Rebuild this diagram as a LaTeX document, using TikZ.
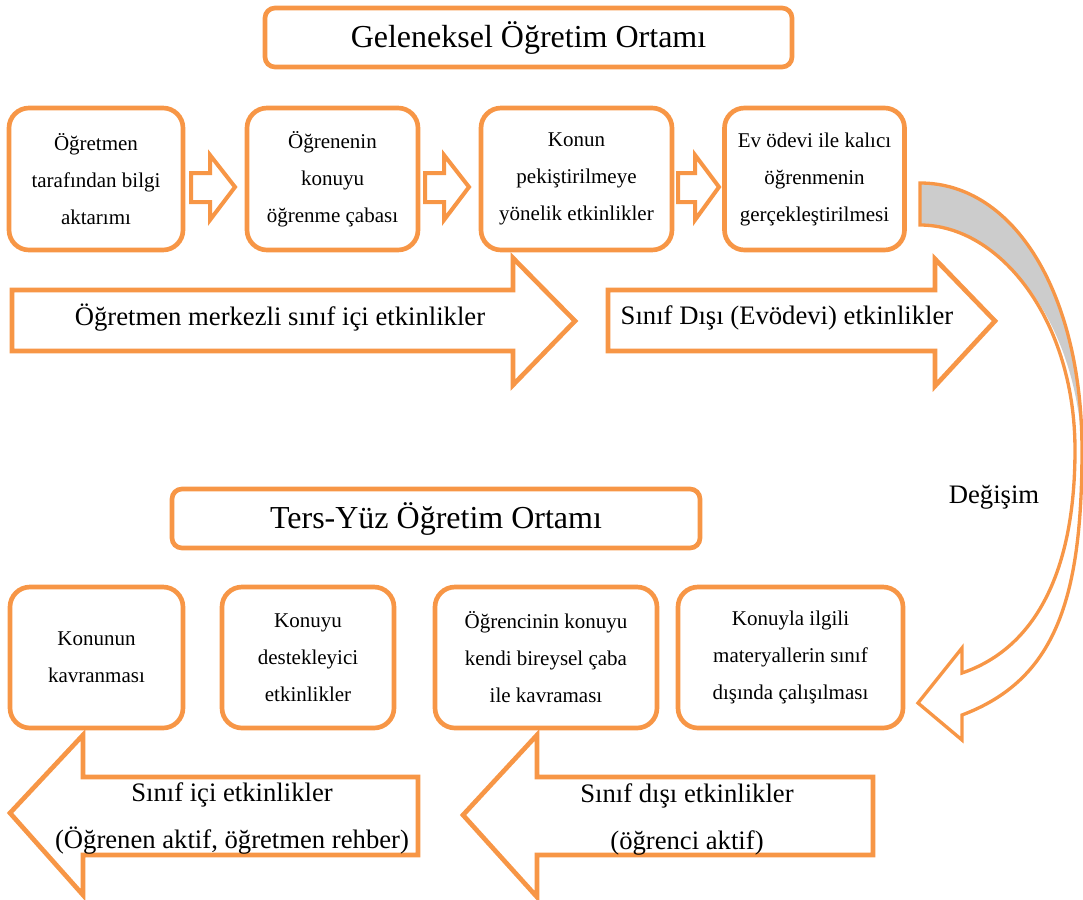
\documentclass[tikz,border=0pt]{standalone}
\usepackage{fontspec}
\setmainfont{Liberation Serif}
\definecolor{turuncu}{HTML}{F79646}
\definecolor{gri}{HTML}{CCCCCC}
\begin{document}
\begin{tikzpicture}[x=0.75pt,y=-0.75pt,
        kutu/.style={draw=turuncu,line width=3.5pt,rounded corners=15pt,align=center,inner sep=0pt,font=\fontsize{15.75}{27.75}\selectfont},
        baslik/.style={draw=turuncu,line width=3.5pt,rounded corners=7.5pt,inner sep=0pt,minimum height=44.25pt,font=\fontsize{24}{28}\selectfont},
        blokok/.style={draw=turuncu,line width=3.5pt,fill=white},
        kucukok/.style={draw=turuncu,line width=3pt,fill=white},
        yazi/.style={align=center,font=\fontsize{20}{35.25}\selectfont}]
                \useasboundingbox (0,0) rectangle (1083,900);
                % geleneksel
                \node[baslik,minimum width=395.25pt] (T1) at (528.5,37.5) {Geleneksel Öğretim Ortamı};
                \node[kutu,minimum width=130.5pt,minimum height=106.5pt] (B1) at (96,179) {Öğretmen\\tarafından bilgi\\aktarımı};
                \node[kutu,minimum width=128.25pt,minimum height=106.5pt] (B2) at (332.5,179) {Öğrenenin\\konuyu\\öğrenme çabası};
                \node[kutu,minimum width=143.25pt,minimum height=106.5pt] (B3) at (576.5,179) {Konun\\pekiştirilmeye\\yönelik etkinlikler};
                \node[kutu,minimum width=135pt,minimum height=106.5pt] (B4) at (814.5,179) {Ev ödevi ile kalıcı\\öğrenmenin\\gerçekleştirilmesi};
                \draw[kucukok] (191,173) -- (210,173) -- (210,155) -- (235,187) -- (210,220) -- (210,202) -- (191,202) -- cycle;
                \draw[kucukok] (425,173) -- (444,173) -- (444,155) -- (469,187) -- (444,220) -- (444,202) -- (425,202) -- cycle;
                \draw[kucukok] (678,173) -- (695,173) -- (695,155) -- (719,187) -- (695,220) -- (695,202) -- (678,202) -- cycle;
                \draw[blokok] (12,290) -- (513,290) -- (513,258) -- (575,321) -- (513,385) -- (513,351) -- (12,351) -- cycle;
                \draw[blokok] (608,290) -- (935,290) -- (935,259) -- (995,321) -- (935,386) -- (935,351) -- (608,351) -- cycle;
                \node[yazi] (S1) at (280,318) {Öğretmen merkezli sınıf içi etkinlikler};
                \node[yazi] (S2) at (787,318) {Sınıf Dışı (Evödevi) etkinlikler};
                % degisim
                \fill[gri] (920,183) .. controls (1015,183) and (1082,295) .. (1082,450) .. controls (1077,320) and (1000,225) .. (920,225) -- cycle;
                \draw[draw=turuncu,line width=2.5pt,line join=miter] (920,183) .. controls (1015,183) and (1082,295) .. (1082,450) .. controls (1082,600) and (1055,680) .. (962,715) -- (962,740) -- (918,703) -- (962,648) -- (962,673) .. controls (1030,650) and (1075,580) .. (1075,450) .. controls (1075,320) and (1000,225) .. (920,225) -- cycle;
                \node[font=\fontsize{20}{24}\selectfont] (D) at (994,497) {Değişim};
                % ters-yuz
                \node[baslik,minimum width=396pt] (T2) at (436,518.5) {Ters-Yüz Öğretim Ortamı};
                \node[kutu,minimum width=129.75pt,minimum height=105.75pt] (C1) at (96.5,657.5) {Konunun\\kavranması};
                \node[kutu,minimum width=129pt,minimum height=105.75pt] (C2) at (308,657.5) {Konuyu\\destekleyici\\etkinlikler};
                \node[kutu,minimum width=166.5pt,minimum height=105.75pt] (C3) at (546,657.5) {Öğrencinin konuyu\\kendi bireysel çaba\\ile kavraması};
                \node[kutu,minimum width=168.75pt,minimum height=105.75pt] (C4) at (790.5,657.5) {Konuyla ilgili\\materyallerin sınıf\\dışında çalışılması};
                \draw[blokok] (418,777) -- (83,777) -- (83,735) -- (10,813) -- (83,895) -- (83,855) -- (418,855) -- cycle;
                \draw[blokok] (873,777) -- (537,777) -- (537,735) -- (463,815) -- (537,897) -- (537,855) -- (873,855) -- cycle;
                \node[yazi] (S3) at (232,818) {Sınıf içi etkinlikler\\(Öğrenen aktif, öğretmen rehber)};
                \node[yazi] (S4) at (687,819) {Sınıf dışı etkinlikler\\(öğrenci aktif)};
            \end{tikzpicture}
\end{document}
